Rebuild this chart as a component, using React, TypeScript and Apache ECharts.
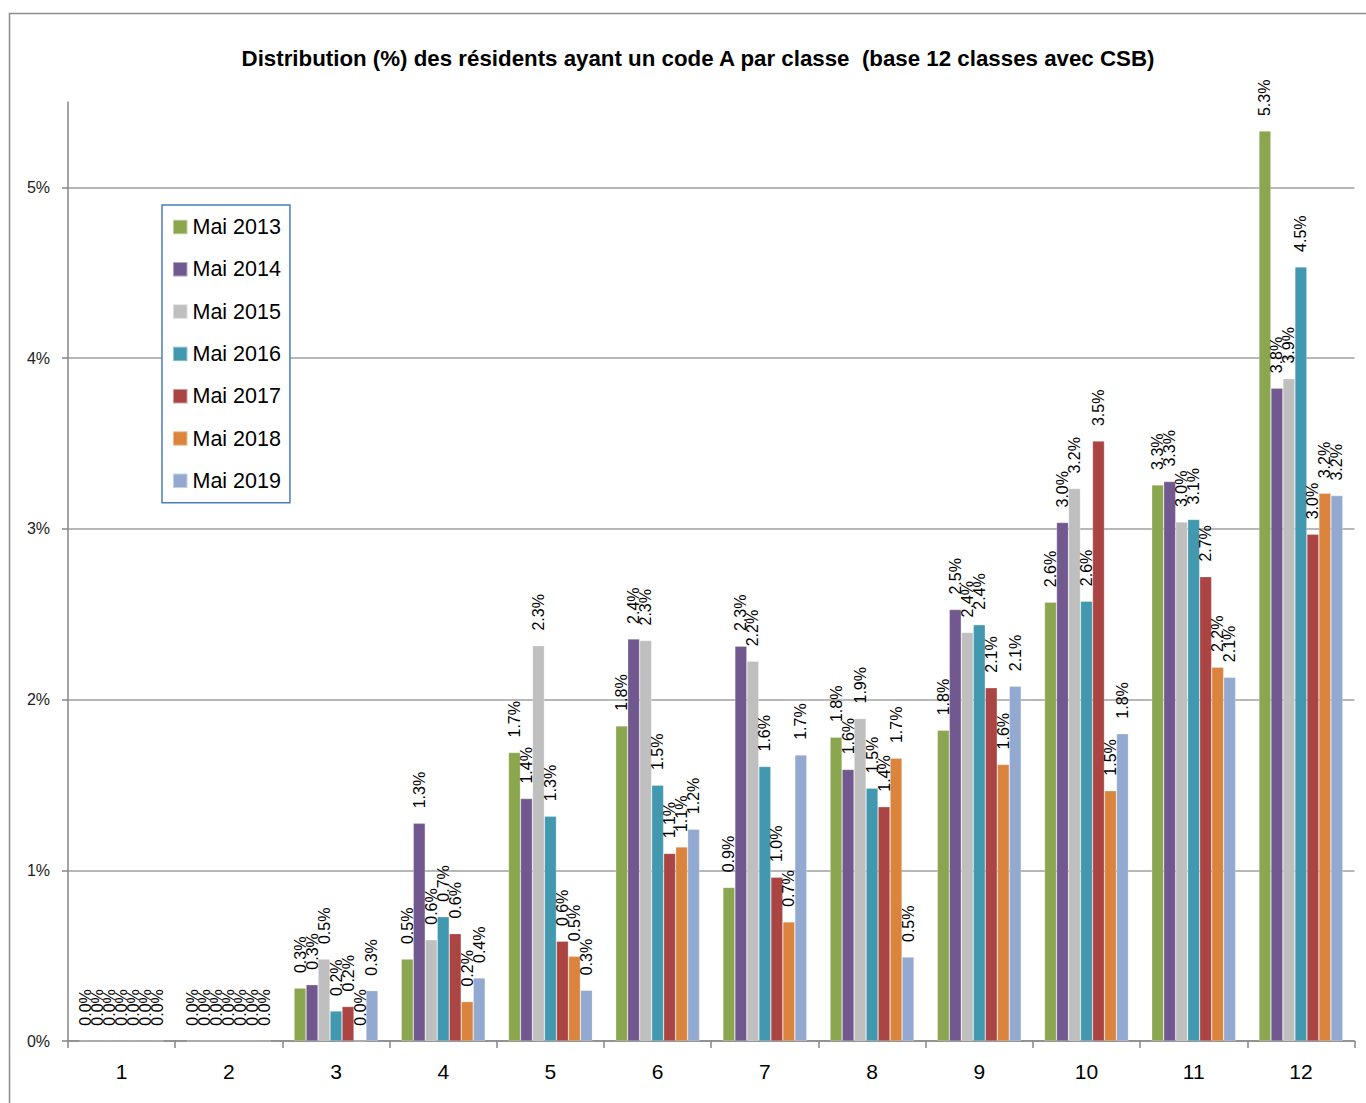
import React, { useEffect, useRef } from "react";
import * as echarts from "echarts";

const categories = ["1", "2", "3", "4", "5", "6", "7", "8", "9", "10", "11", "12"];
const seriesNames = ["Mai 2013", "Mai 2014", "Mai 2015", "Mai 2016", "Mai 2017", "Mai 2018", "Mai 2019"];
const s2013 = [0, 0, 0.31, 0.48, 1.69, 1.846, 0.9, 1.78, 1.82, 2.57, 3.257, 5.33];
const s2014 = [0, 0, 0.33, 1.275, 1.42, 2.355, 2.313, 1.591, 2.527, 3.037, 3.277, 3.823];
const s2015 = [0, 0, 0.48, 0.593, 2.316, 2.346, 2.224, 1.889, 2.393, 3.236, 3.04, 3.88];
const s2016 = [0, 0, 0.176, 0.728, 1.316, 1.499, 1.608, 1.481, 2.438, 2.576, 3.055, 4.534];
const s2017 = [0, 0, 0.202, 0.629, 0.585, 1.099, 0.96, 1.372, 2.069, 3.514, 2.72, 2.968];
const s2018 = [0, 0, 0, 0.231, 0.496, 1.136, 0.698, 1.657, 1.62, 1.466, 2.19, 3.208];
const s2019 = [0, 0, 0.295, 0.369, 0.297, 1.241, 1.676, 0.492, 2.078, 1.8, 2.131, 3.195];
const seriesData = [s2013, s2014, s2015, s2016, s2017, s2018, s2019];
const colors = ["#8aa64e", "#71588f", "#bfbfbf", "#4198af", "#ab4544", "#db843d", "#93a9d0"];
const yTicks = [0, 1, 2, 3, 4, 5];
const titleText = "Distribution (%) des résidents ayant un code A par classe  (base 12 classes avec CSB)";

const FONT = "Liberation Sans, Arial, sans-serif";

export default function App() {
  const ref = useRef<HTMLDivElement>(null);
  useEffect(() => {
    if (!ref.current) return;
    const chart = echarts.init(ref.current, null, { renderer: "svg" });
    chart.setOption({
      animation: false,
      backgroundColor: "#ffffff",
      textStyle: { fontFamily: FONT },
      title: {
        text: titleText,
        left: 693,
        top: 42,
        textAlign: "center",
        textStyle: { fontFamily: FONT, fontWeight: "bold", fontSize: 22.3, color: "#000" },
      },
      graphic: [
        {
          type: "rect",
          shape: { x: 9.5, y: 13.5, width: 1400, height: 1200 },
          style: { fill: "none", stroke: "#8c8c8c", lineWidth: 1.5 },
          silent: true,
        },
      ],
      legend: {
        orient: "vertical",
        left: 162,
        top: 205,
        padding: [11, 9, 11, 10],
        itemGap: 20.3,
        itemWidth: 14.5,
        itemHeight: 14.5,
        icon: "rect",
        borderColor: "#4a7ebb",
        borderWidth: 1.5,
        backgroundColor: "#ffffff",
        textStyle: { fontFamily: FONT, fontSize: 21.5, lineHeight: 22, color: "#000" },
        data: seriesNames,
      },
      grid: { left: 68, right: 11.5, top: 102, bottom: 62, containLabel: false },
      xAxis: {
        type: "category",
        data: categories,
        boundaryGap: true,
        axisLine: { lineStyle: { color: "#868686", width: 1.5 } },
        axisTick: { show: true, alignWithLabel: false, length: 7, lineStyle: { color: "#868686", width: 1.5 } },
        axisLabel: { fontFamily: FONT, fontSize: 21, color: "#000", margin: 20, interval: 0 },
        splitLine: { show: false },
      },
      yAxis: {
        type: "value",
        min: 0,
        max: 5.5,
        interval: 1,
        axisLine: { show: true, lineStyle: { color: "#868686", width: 1.5 } },
        axisTick: { show: true, length: 6, customValues: yTicks, lineStyle: { color: "#868686", width: 1.5 } },
        axisLabel: {
          fontFamily: FONT,
          fontSize: 16,
          color: "#222",
          margin: 18,
          customValues: yTicks,
          formatter: (v: number) => `${v}%`,
        },
        splitLine: { show: true, lineStyle: { color: "#a0a0a0", width: 1.5 } },
      },
      series: seriesNames.map((name, i) => ({
        name,
        type: "bar",
        data: seriesData[i],
        barGap: "0%",
        barCategoryGap: "21.7%",
        itemStyle: { color: colors[i], borderColor: "rgba(255,255,255,0.45)", borderWidth: 0.6 },
        label: {
          show: true,
          position: "top",
          rotate: 90,
          align: "left",
          verticalAlign: "middle",
          distance: 15,
          fontFamily: FONT,
          fontSize: 16,
          color: "#000",
          formatter: (p: any) => `${Number(p.value).toFixed(1)}%`,
        },
      })),
    });
    return () => chart.dispose();
  }, []);
  return (
    <div
      ref={ref}
      style={{ position: "absolute", left: 0, top: 0, width: 1366, height: 1103 }}
    />
  );
}
